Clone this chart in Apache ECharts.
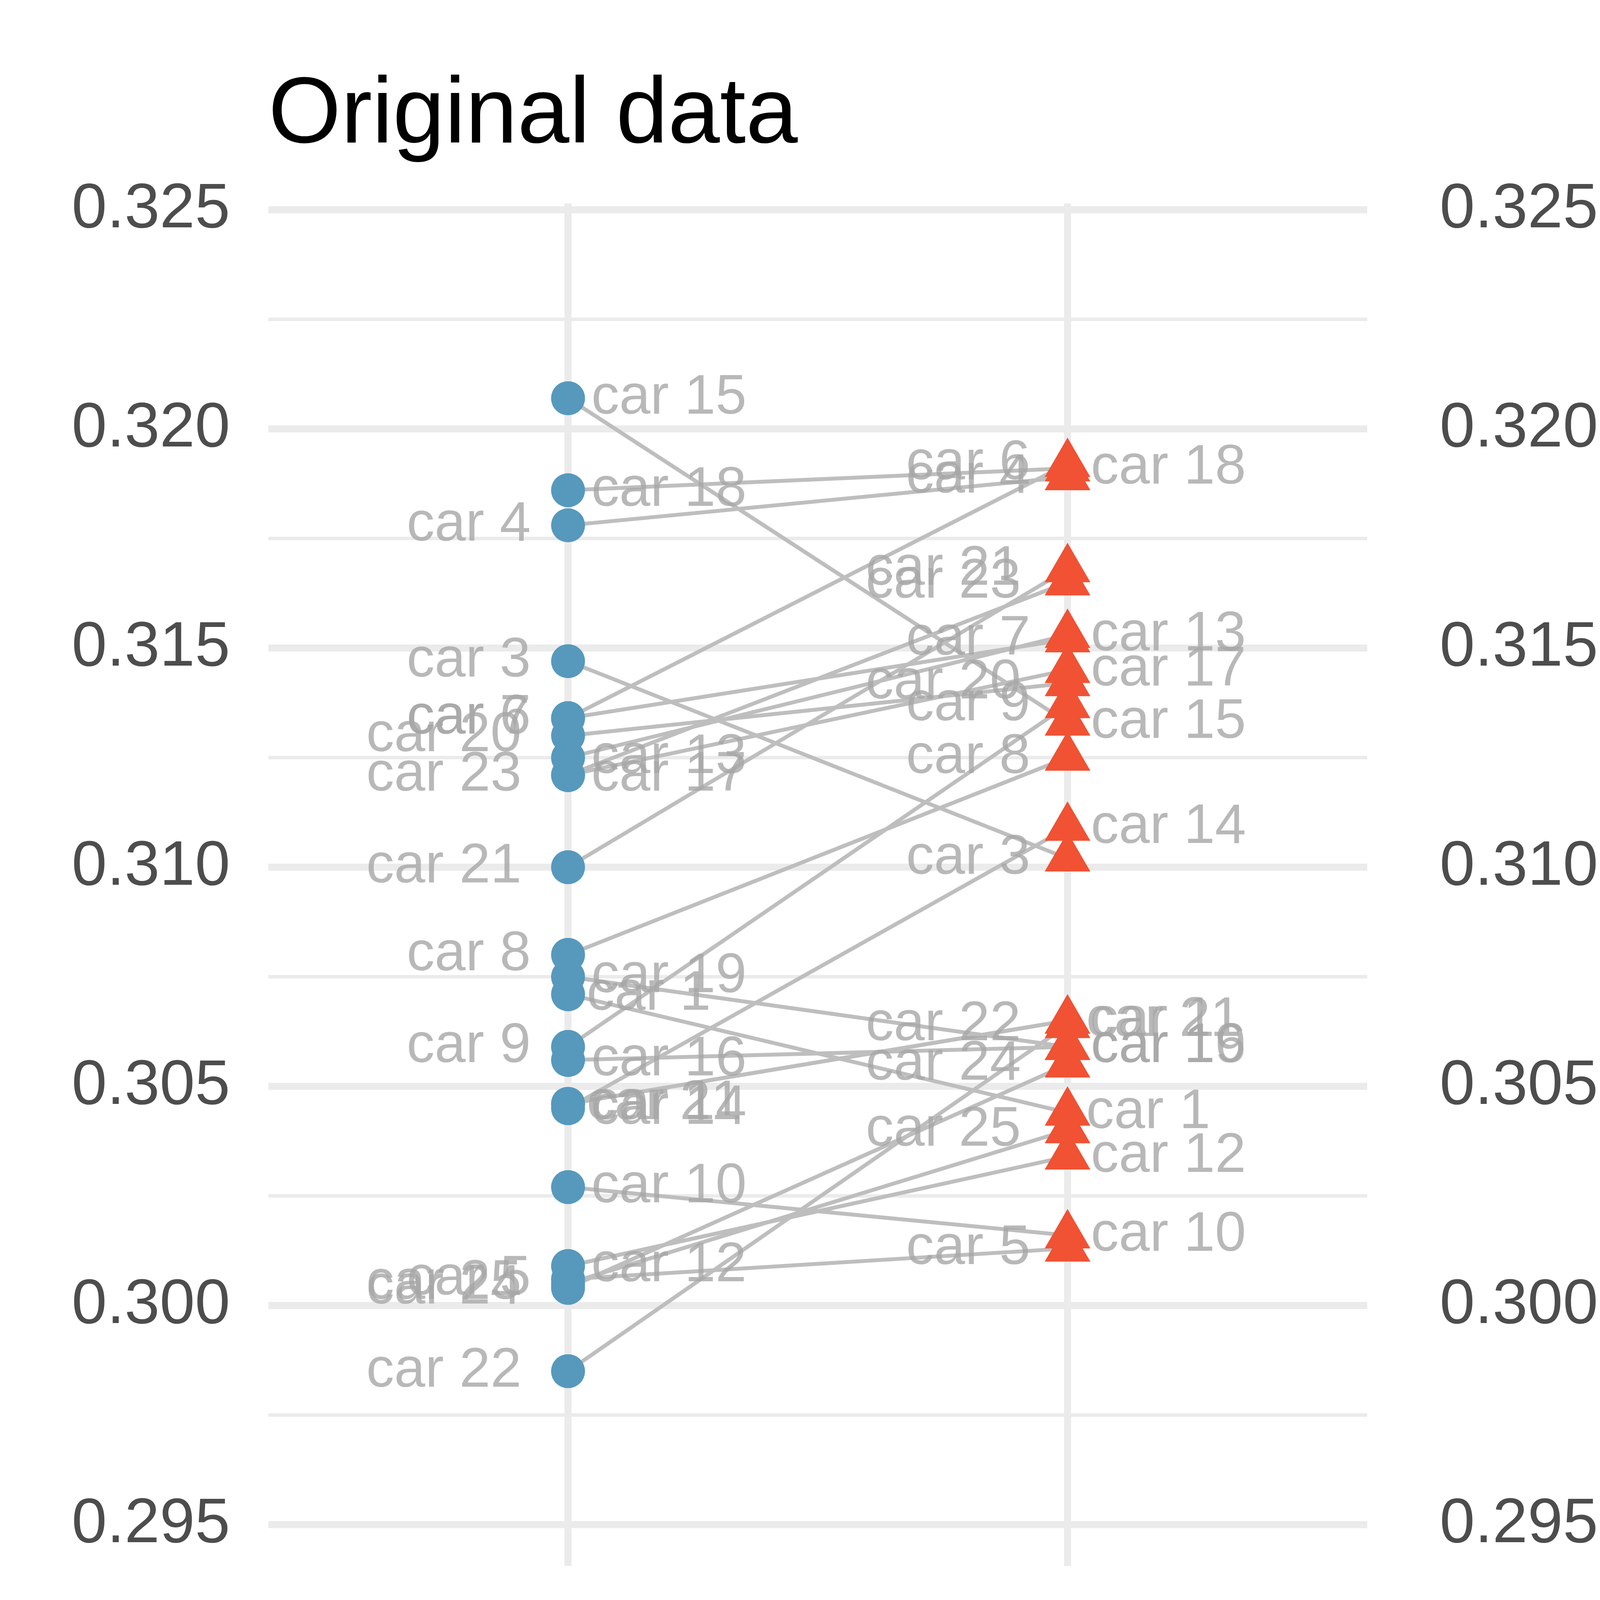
<!DOCTYPE html>
<html><head><meta charset="utf-8">
<script src="https://cdn.jsdelivr.net/npm/echarts@6/dist/echarts.min.js"></script>
<style>html,body{margin:0;padding:0;background:#fff}#c{width:7200px;height:4449px}</style>
</head><body><div id="c"></div>
<script>
// ---------------- data ----------------
const cars = ['car 1','car 2','car 3','car 4','car 5','car 6','car 7','car 8','car 9','car 10',
  'car 11','car 12','car 13','car 14','car 15','car 16','car 17','car 18','car 19','car 20',
  'car 21','car 22','car 23','car 24','car 25'];
const conditions = ['Quick Spin', 'Smooth Turn'];
const quickSpin = [0.3071, 0.3046, 0.3147, 0.3178, 0.3006, 0.3134, 0.3134, 0.3080, 0.3059, 0.3027,
  0.3046, 0.3009, 0.3125, 0.3045, 0.3207, 0.3056, 0.3121, 0.3186, 0.3075, 0.3130,
  0.3100, 0.2985, 0.3121, 0.3004, 0.3005];
const smoothTurn = [0.3044, 0.3065, 0.3102, 0.3189, 0.3013, 0.3192, 0.3152, 0.3125, 0.3137, 0.3016,
  0.3065, 0.3034, 0.3153, 0.3109, 0.3133, 0.3059, 0.3145, 0.3191, 0.3059, 0.3142,
  0.3168, 0.3064, 0.3165, 0.3055, 0.3040];
// cars whose two condition labels were swapped in the shuffled data
const shuffledSwaps = ['car 1','car 5','car 6','car 7','car 8','car 9','car 10','car 14',
  'car 17','car 18','car 23','car 24','car 25'];
const majorTicks = [0.295, 0.300, 0.305, 0.310, 0.315, 0.320, 0.325];
const minorTicks = [0.2975, 0.3025, 0.3075, 0.3125, 0.3175, 0.3225];
const panelTitles = ['Original data', 'Shuffled data'];

// ---------------- derived ----------------
const shuffledQS = cars.map((c, i) => shuffledSwaps.includes(c) ? smoothTurn[i] : quickSpin[i]);
const shuffledST = cars.map((c, i) => shuffledSwaps.includes(c) ? quickSpin[i] : smoothTurn[i]);
const panels = [[quickSpin, smoothTurn], [shuffledQS, shuffledST]];

const FONT = '"Liberation Sans", Arial, Helvetica, sans-serif';
const LABEL_SIZE = 143;
const sortedNames = cars.slice().sort();
const isRight = c => sortedNames.indexOf(c) < Math.floor(cars.length / 2);
const HJ_RIGHT = -0.15, HJ_LEFT = 1.3;

const X_MIN = 0.4, X_MAX = 2.6, Y_MIN = 0.294055, Y_MAX = 0.325143;
const grids = [
  {left: 687, top: 521, width: 2813, height: 3488},
  {left: 4189, top: 521, width: 2811, height: 3488}
];
const GRID_COLOR = '#EBEBEB';

const option = {
  animation: false,
  backgroundColor: '#ffffff',
  title: panelTitles.map((t, p) => ({
    text: t, left: grids[p].left, top: 180, padding: 0,
    textStyle: {fontSize: 239, fontWeight: 'normal', color: '#000000', fontFamily: FONT}
  })),
  grid: grids.map(g => Object.assign({containLabel: false, outerBoundsMode: 'none'}, g)),
  xAxis: grids.map((g, p) => ({
    type: 'value', gridIndex: p, min: X_MIN, max: X_MAX,
    axisLine: {show: false}, axisTick: {show: false}, splitLine: {show: false},
    axisLabel: {
      customValues: [1, 2], formatter: v => conditions[Math.round(v) - 1],
      fontSize: 162, color: '#4D4D4D', fontFamily: FONT, margin: 85
    }
  })),
  yAxis: grids.map((g, p) => ({
    type: 'value', gridIndex: p, min: Y_MIN, max: Y_MAX,
    axisLine: {show: false}, axisTick: {show: false}, splitLine: {show: false},
    axisLabel: {
      customValues: majorTicks, formatter: v => v.toFixed(3),
      fontSize: 162, color: '#4D4D4D', fontFamily: FONT, margin: 98
    }
  })),
  series: []
};

panels.forEach((vals, p) => {
  const [qs, st] = vals;
  // grid lines (from tick arrays)
  const gridData = [
    ...minorTicks.map(v => ({coords: [[X_MIN, v], [X_MAX, v]], lineStyle: {width: 9}})),
    ...majorTicks.map(v => ({coords: [[X_MIN, v], [X_MAX, v]], lineStyle: {width: 18}})),
    ...[1, 2].map(v => ({coords: [[v, Y_MIN], [v, Y_MAX]], lineStyle: {width: 18}}))
  ];
  option.series.push({
    type: 'lines', coordinateSystem: 'cartesian2d', xAxisIndex: p, yAxisIndex: p, z: 0,
    polyline: false, silent: true, clip: false,
    lineStyle: {color: GRID_COLOR, width: 18, opacity: 1, curveness: 0, cap: 'butt'},
    data: gridData
  });
  // connecting lines
  option.series.push({
    type: 'lines', coordinateSystem: 'cartesian2d', xAxisIndex: p, yAxisIndex: p, z: 1,
    polyline: false, silent: true,
    lineStyle: {color: '#BEBEBE', width: 10, opacity: 1, curveness: 0},
    data: cars.map((c, i) => ({coords: [[1, qs[i]], [2, st[i]]]}))
  });
  // points
  option.series.push({
    type: 'scatter', xAxisIndex: p, yAxisIndex: p, z: 2, symbol: 'circle', symbolSize: 87,
    itemStyle: {color: '#5699BD', opacity: 1}, silent: true,
    data: qs.map(v => [1, v])
  });
  option.series.push({
    type: 'scatter', xAxisIndex: p, yAxisIndex: p, z: 2, symbol: 'triangle',
    symbolSize: [117, 101], symbolOffset: [0, -17],
    itemStyle: {color: '#F05233', opacity: 1}, silent: true,
    data: st.map(v => [2, v])
  });
  // labels
  const labelData = [];
  [qs, st].forEach((arr, k) => {
    cars.forEach((c, i) => labelData.push({name: c, value: [k + 1, arr[i]]}));
  });
  option.series.push({
    type: 'scatter', xAxisIndex: p, yAxisIndex: p, z: 3, symbol: 'circle', symbolSize: 2,
    itemStyle: {color: 'rgba(0,0,0,0)'}, silent: true,
    label: {
      show: true, formatter: '{b}', position: 'inside', align: 'left', verticalAlign: 'middle',
      fontSize: LABEL_SIZE, color: '#A6A6A6', fontFamily: FONT
    },
    labelLayout: function (params) {
      const car = cars[params.dataIndex % cars.length];
      const h = isRight(car) ? HJ_RIGHT : HJ_LEFT;
      const cx = params.rect.x + params.rect.width / 2;
      const cy = params.rect.y + params.rect.height / 2;
      const w = params.labelRect.width;
      return {x: cx - h * w, y: cy, align: 'left', verticalAlign: 'middle', hideOverlap: false};
    },
    data: labelData
  });
});

const chart = echarts.init(document.getElementById('c'), null, {renderer: 'canvas', width: 7200, height: 4449});
chart.setOption(option);
</script>
</body></html>
